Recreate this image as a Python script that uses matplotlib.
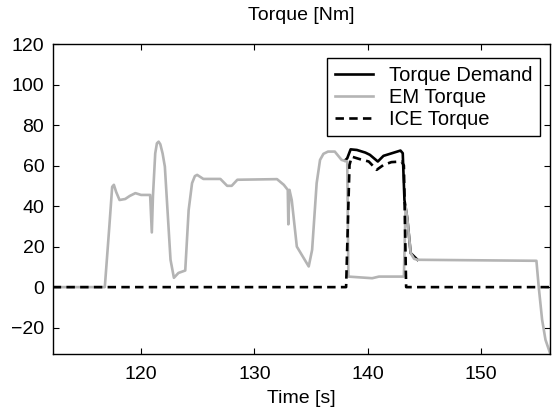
import numpy as np
import matplotlib
matplotlib.use('Agg')
import matplotlib.pyplot as plt

plt.rcParams['font.family'] = ['Liberation Sans', 'DejaVu Sans']

# EM torque (grey)
t_em = [112.2, 116.8, 117.2, 117.45, 117.6, 117.8, 118.1, 118.6, 119.0, 119.5, 120.0,
        120.8, 120.95, 121.05, 121.25, 121.4, 121.55, 121.7, 121.9, 122.1, 122.6,
        122.9, 123.3, 123.9, 124.2, 124.5, 124.75, 124.95, 125.5, 127.0, 127.6,
        128.0, 128.5, 132.0, 132.6, 132.95, 133.0, 133.1, 133.3, 133.75, 134.8,
        135.1, 135.5, 135.8, 136.1, 136.5, 137.1, 137.7, 138.2, 138.3, 140.4,
        141.0, 143.2, 143.35, 143.5, 143.8, 144.1, 144.4, 154.9, 155.1, 155.4,
        155.7, 156.1]
em = [0, 0, 30, 49.5, 50.5, 47, 43, 43.5, 45, 46.4, 45.5,
      45.5, 27, 45, 66, 71, 71.8, 70.5, 66, 59.5, 13.5,
      4.6, 7, 8.2, 38, 51.3, 54.8, 55.4, 53.4, 53.4, 50,
      50, 53, 53.3, 50.5, 48, 31, 48, 43, 20, 10.2,
      18.4, 51.3, 62.8, 65.8, 66.9, 66.9, 62.8, 62, 5.2, 4.4,
      5.2, 5.2, 40, 34, 16.8, 14, 13.5, 13, 0.3, -16,
      -26, -32.5]

# torque demand (black), only where it differs from EM
t_dem = [138.0, 138.2, 138.5, 139.05, 139.8, 140.2, 140.9, 141.4, 142.15,
         142.9, 143.1, 143.25, 143.5, 143.8, 144.4]
dem = [62.5, 63.6, 68, 67.7, 66.4, 65.3, 62, 64.8, 66.1,
       67.4, 66.1, 43, 34, 16.8, 13.5]

# ICE torque (dashed)
t_ice = [112.2, 138.1, 138.4, 138.6, 139.35, 140.1, 140.8, 141.4, 142.1,
         143.0, 143.2, 143.4, 156.1]
ice = [0, 0, 60.3, 64.4, 63.1, 62, 57.9, 60.3, 61.7, 62, 60, 0, 0]

fs = 14

fig = plt.figure(figsize=(5.53, 4.12), dpi=100)
ax = fig.add_axes([0.0953, 0.1408, 0.8993, 0.7524])

ax.plot(t_dem, dem, color='black', lw=1.9, label='Torque Demand')
ax.plot(t_em, em, color='#b4b4b4', lw=1.9, label='EM Torque')
ax.plot(t_ice, ice, color='black', lw=1.9, ls=(0, (3.2, 2)), label='ICE Torque')

ax.set_xlim(112.2, 156.1)
ax.set_ylim(-33, 120)
ax.set_xticks([120, 130, 140, 150])
ax.set_yticks(np.arange(-20, 121, 20))
ax.tick_params(direction='in', length=4, width=0.8, top=True, right=True,
               labelsize=fs)
ax.tick_params(axis='x', pad=9)
ax.tick_params(axis='y', pad=6)
for s in ax.spines.values():
    s.set_linewidth(1.0)

ax.set_title('Torque [Nm]', fontsize=fs, pad=17)
ax.set_xlabel('Time [s]', fontsize=fs, labelpad=5)

leg = ax.legend(loc='upper right', bbox_to_anchor=(0.98, 0.955), borderaxespad=0,
                fontsize=14.5, fancybox=False, edgecolor='black', framealpha=1,
                handlelength=1.9, handletextpad=0.8, labelspacing=0.15,
                borderpad=0.38)
leg.get_frame().set_linewidth(1.0)

fig.savefig('out.png', dpi=100)
